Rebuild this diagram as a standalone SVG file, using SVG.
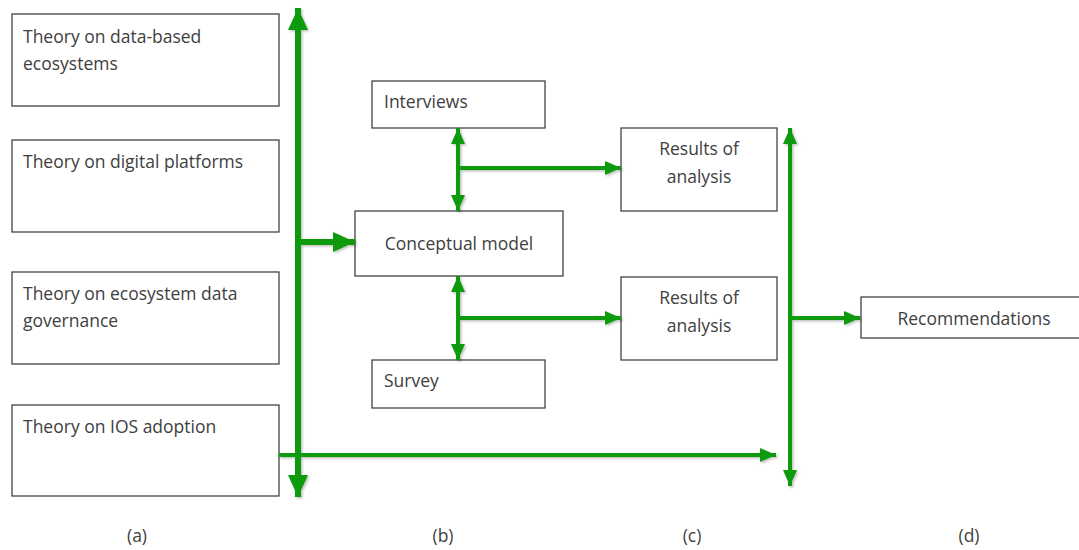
<svg xmlns="http://www.w3.org/2000/svg" width="1079" height="550" viewBox="0 0 1079 550">
  <style>
    .box { fill: #ffffff; stroke: #444444; stroke-width: 1.3; }
    .lbl { font-family: "Open Sans", "Liberation Sans", sans-serif; font-size: 17.5px; fill: #404040; }
    .mid { text-anchor: middle; }
    .thick { stroke: #0a9b0a; stroke-width: 6; fill: none; }
    .thin { stroke: #0a9b0a; stroke-width: 4; fill: none; }
  </style>
  <defs>
    <filter id="shadow" x="-20%" y="-20%" width="140%" height="140%">
      <feDropShadow dx="1.5" dy="1.5" stdDeviation="1.2" flood-color="#000000" flood-opacity="0.25"/>
    </filter>
    <marker id="bigHead" markerUnits="userSpaceOnUse" viewBox="0 0 22 20" refX="22" refY="10" markerWidth="22" markerHeight="20" orient="auto-start-reverse">
      <path d="M0,0 L22,10 L0,20 Z" fill="#0a9b0a"/>
    </marker>
    <marker id="smallHead" markerUnits="userSpaceOnUse" viewBox="0 0 16 14" refX="16" refY="7" markerWidth="16" markerHeight="14" orient="auto-start-reverse">
      <path d="M0,0 L16,7 L0,14 Z" fill="#0a9b0a"/>
    </marker>
  </defs>
  <rect width="1079" height="550" fill="#ffffff"/>

  <!-- theory inputs, column (a) -->
  <g id="theory-ecosystems">
    <rect class="box" x="12" y="14" width="267" height="92"/>
    <text class="lbl" x="23" y="43">Theory on data-based</text>
    <text class="lbl" x="23" y="70">ecosystems</text>
  </g>
  <g id="theory-platforms">
    <rect class="box" x="12" y="140" width="267" height="92"/>
    <text class="lbl" x="23" y="168">Theory on digital platforms</text>
  </g>
  <g id="theory-governance">
    <rect class="box" x="12" y="272" width="267" height="92"/>
    <text class="lbl" x="23" y="300">Theory on ecosystem data</text>
    <text class="lbl" x="23" y="327">governance</text>
  </g>
  <g id="theory-ios">
    <rect class="box" x="12" y="405" width="267" height="91"/>
    <text class="lbl" x="23" y="433">Theory on IOS adoption</text>
  </g>

  <!-- column (b) -->
  <g id="interviews">
    <rect class="box" x="372" y="81" width="173" height="47"/>
    <text class="lbl" x="384" y="108">Interviews</text>
  </g>
  <g id="conceptual-model">
    <rect class="box" x="355" y="211" width="208" height="65"/>
    <text class="lbl mid" x="459" y="250">Conceptual model</text>
  </g>
  <g id="survey">
    <rect class="box" x="372" y="360" width="173" height="48"/>
    <text class="lbl" x="384" y="387">Survey</text>
  </g>

  <!-- column (c) -->
  <g id="results-interviews">
    <rect class="box" x="621" y="128" width="156" height="83"/>
    <text class="lbl mid" x="699" y="155">Results of</text>
    <text class="lbl mid" x="699" y="183">analysis</text>
  </g>
  <g id="results-survey">
    <rect class="box" x="621" y="277" width="156" height="83"/>
    <text class="lbl mid" x="699" y="304">Results of</text>
    <text class="lbl mid" x="699" y="332">analysis</text>
  </g>

  <!-- column (d) -->
  <g id="recommendations">
    <rect class="box" x="861" y="297" width="225" height="41"/>
    <text class="lbl mid" x="974" y="325">Recommendations</text>
  </g>

  <!-- connectors -->
  <g id="connectors" filter="url(#shadow)">
    <line class="thick" x1="298" y1="8" x2="298" y2="497" marker-start="url(#bigHead)" marker-end="url(#bigHead)"/>
    <line class="thick" x1="298" y1="242" x2="355" y2="242" marker-end="url(#bigHead)"/>
    <line class="thin" x1="279" y1="455" x2="776" y2="455" marker-end="url(#smallHead)"/>
    <line class="thin" x1="458" y1="128" x2="458" y2="211" marker-start="url(#smallHead)" marker-end="url(#smallHead)"/>
    <line class="thin" x1="458" y1="168" x2="621" y2="168" marker-end="url(#smallHead)"/>
    <line class="thin" x1="458" y1="276" x2="458" y2="360" marker-start="url(#smallHead)" marker-end="url(#smallHead)"/>
    <line class="thin" x1="458" y1="318" x2="621" y2="318" marker-end="url(#smallHead)"/>
    <line class="thin" x1="790" y1="128" x2="790" y2="486" marker-start="url(#smallHead)" marker-end="url(#smallHead)"/>
    <line class="thin" x1="790" y1="318" x2="860" y2="318" marker-end="url(#smallHead)"/>
  </g>

  <!-- column labels -->
  <g id="column-labels">
    <text class="lbl mid" x="137" y="542">(a)</text>
    <text class="lbl mid" x="443" y="542">(b)</text>
    <text class="lbl mid" x="692" y="542">(c)</text>
    <text class="lbl mid" x="969" y="542">(d)</text>
  </g>
</svg>
